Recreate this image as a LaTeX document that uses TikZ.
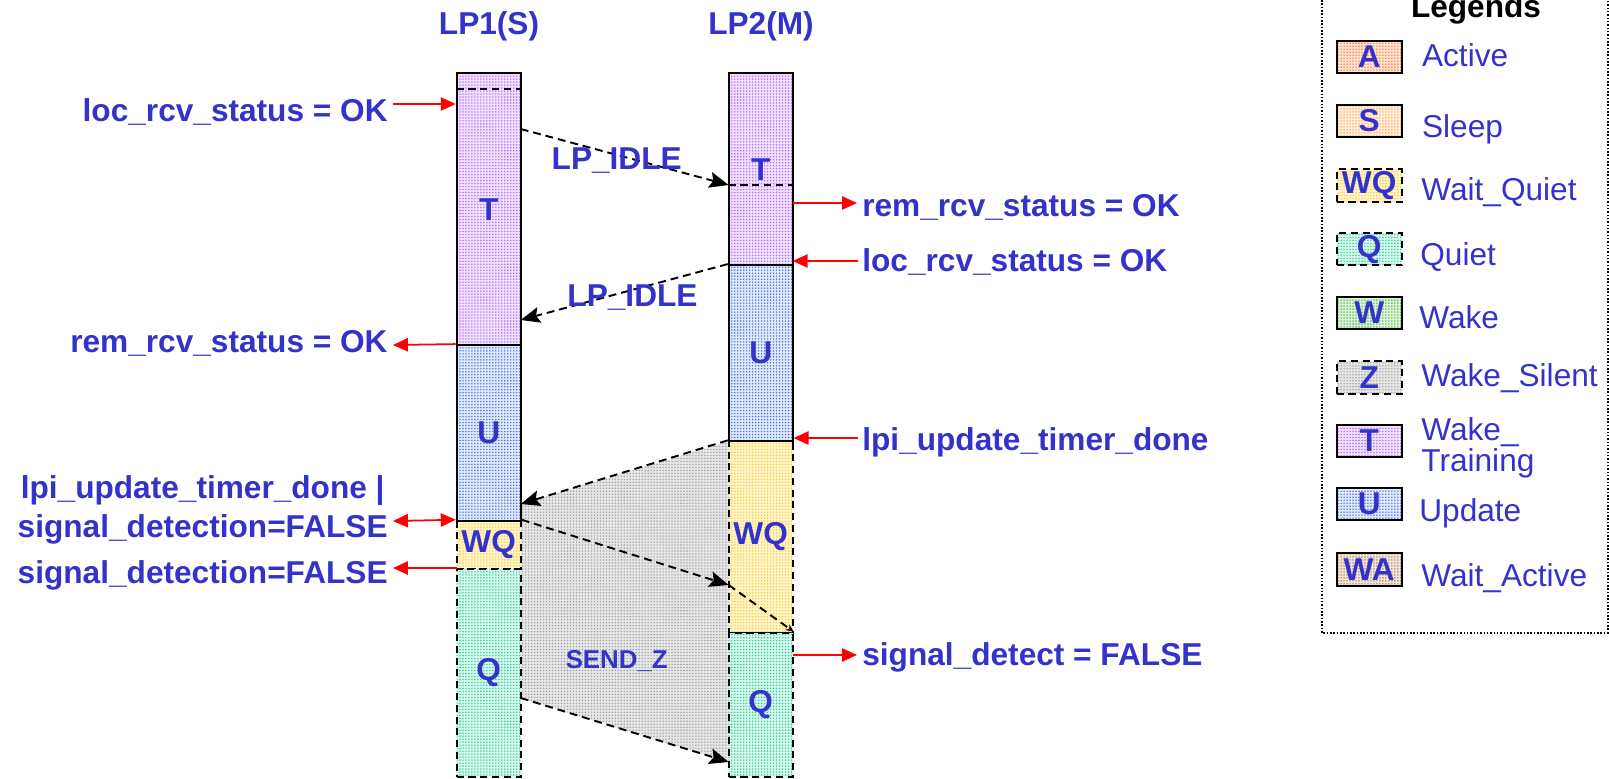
\documentclass[tikz,border=0pt]{standalone}
\usepackage{fontspec}
\setmainfont{Liberation Sans}
\usetikzlibrary{arrows.meta,patterns}
% a fine grid of dots for the state fills
\pgfdeclarepatternformonly{finedots}{\pgfqpoint{-0.85pt}{-0.85pt}}{\pgfqpoint{0.85pt}{0.85pt}}{\pgfqpoint{1.7pt}{1.7pt}}{%
  \pgfpathcircle{\pgfqpoint{0pt}{0pt}}{0.45pt}\pgfusepath{fill}}
\definecolor{txtblue}{HTML}{3333CC}
\definecolor{tBg}{HTML}{F0E0FF}\definecolor{tDot}{HTML}{B068F0}
\definecolor{uBg}{HTML}{E0E8FC}\definecolor{uDot}{HTML}{3F6FDC}
\definecolor{wqBg}{HTML}{FFF4CC}\definecolor{wqDot}{HTML}{FFCC33}
\definecolor{qBg}{HTML}{D4F8EC}\definecolor{qDot}{HTML}{30C898}
\definecolor{zBg}{HTML}{E6E6E6}\definecolor{zDot}{HTML}{A0A0A0}
\definecolor{aBg}{HTML}{FFE4D4}\definecolor{aDot}{HTML}{FF7030}
\definecolor{sBg}{HTML}{FFEEDC}\definecolor{sDot}{HTML}{FFA448}
\definecolor{wBg}{HTML}{DDF4D8}\definecolor{wDot}{HTML}{38B038}
\definecolor{waBg}{HTML}{F0E6DC}\definecolor{waDot}{HTML}{A87848}
\begin{document}
\begin{tikzpicture}[x=0.02cm,y=-0.02cm,
  lbl/.style={font=\bfseries\fontsize{18}{21}\selectfont, text=txtblue, inner sep=0pt},
  leg/.style={font=\fontsize{18}{21}\selectfont, text=txtblue, inner sep=0pt, anchor=base west},
  dotfill/.style 2 args={preaction={fill=#1}, pattern=finedots, pattern color=#2},
  seg/.style 2 args={draw=black, line width=1.1pt, inner sep=0pt, minimum width=64*0.02cm,
    dotfill={#1}{#2}, font=\bfseries\fontsize{18}{21}\selectfont, text=txtblue},
  brk/.style={dash pattern=on 4pt off 2.7pt},
  stA/.style={seg={aBg}{aDot}},
  stS/.style={seg={sBg}{sDot}},
  stWQ/.style={seg={wqBg}{wqDot}, brk},
  stQ/.style={seg={qBg}{qDot}, brk},
  stW/.style={seg={wBg}{wDot}},
  stZ/.style={seg={zBg}{zDot}, brk},
  stT/.style={seg={tBg}{tDot}},
  stU/.style={seg={uBg}{uDot}},
  stWA/.style={seg={waBg}{waDot}},
  lgbox/.style={minimum width=65*0.02cm, minimum height=32.5*0.02cm},
  msg/.style={line width=1.1pt, dash pattern=on 4.5pt off 2.8pt,
    -{Stealth[length=11pt,width=9pt,inset=2pt]}},
  sig/.style={red, line width=1pt, -{Triangle[length=8.5pt,width=7.5pt]}},
  sigboth/.style={red, line width=1pt, {Triangle[length=8.5pt,width=7.5pt]}-{Triangle[length=8.5pt,width=7.5pt]}}
]
\useasboundingbox (0,0) rectangle (1609,778);
\clip (0,0) rectangle (1609,778);

% Wake_Silent exchange between the two lanes
\path[dotfill={zBg}{zDot}] (728.7,441.3) -- (520.7,504) -- (520.7,698) -- (728.7,762) -- cycle;

% lane LP1: dashed states first, solid states on top
\node[stWQ, minimum height=48.6*0.02cm] (WQ1) at (488.7,545) {WQ};
\node[stQ, minimum height=207.4*0.02cm] (Q1) at (488.7,673) {Q};
\node[stT, minimum height=271.7*0.02cm] (T1) at (488.7,209.2) {T};
\node[stU, minimum height=175.7*0.02cm] (U1) at (488.7,432.9) {U};
% lane LP2
\node[stWQ, minimum height=191.4*0.02cm] (WQ2) at (760.7,537) {WQ};
\node[stQ, minimum height=144*0.02cm] (Q2) at (760.7,704.7) {Q};
\node[stT, minimum height=191.7*0.02cm] (T2) at (760.7,169.2) {T};
\node[stU, minimum height=176.3*0.02cm] (U2) at (760.7,353.2) {U};

% marks inside the training states
\draw[line width=1.1pt, brk] (456.7,89.3) -- (520.7,89.3);
\draw[line width=1.1pt, brk] (728.7,185) -- (792.7,185);

% lane headers
\node[lbl, anchor=base] (h1) at (489,34.3) {LP1(S)};
\node[lbl, anchor=base] (h2) at (761,34.3) {LP2(M)};

% messages between the lanes
\coordinate (m1a) at (520.7,129);
\coordinate (m1b) at (728.7,185);
\coordinate (m2b) at (520.7,320);
\coordinate (m3b) at (520.7,504);
\coordinate (m4b) at (728.7,585);
\coordinate (m6a) at (520.7,698);
\coordinate (m6b) at (728.7,762);
\draw[msg] (m1a) -- (m1b);
\draw[msg] (U2.north west) -- (m2b);
\draw[msg] (WQ2.north west) -- (m3b);
\draw[msg] (WQ1.north east) -- (m4b);
\draw[msg, -{Stealth[length=4.5pt,width=4pt]}] (m4b) -- (Q2.north east);
\draw[msg] (m6a) -- (m6b);

\node[lbl, anchor=base] (idle1) at (616.7,169.3) {LP\_IDLE};
\node[lbl, anchor=base] (idle2) at (632.5,306) {LP\_IDLE};
\node[lbl, font=\bfseries\fontsize{14.7}{17}\selectfont, anchor=base] (sendz) at (616.7,668.3) {SEND\_Z};

% conditions on the LP1 side
\node[lbl, anchor=base east] (ll1) at (388,121.5) {loc\_rcv\_status = OK};
\node[lbl, anchor=base east] (ll2) at (388,352) {rem\_rcv\_status = OK};
\node[lbl, anchor=north east, align=center, font=\bfseries\fontsize{18}{22.1}\selectfont] (ll3) at (388,475) {lpi\_update\_timer\_done |\\signal\_detection=FALSE};
\node[lbl, anchor=base east] (ll4) at (388,583) {signal\_detection=FALSE};
\coordinate (c1) at (393,104);
\coordinate (c2) at (393,345);
\coordinate (c3) at (393,521);
\coordinate (c4a) at (456.7,568);
\coordinate (c4b) at (393,568);
\draw[sig] (c1) -- (T1.west |- c1);
\draw[sig] (U1.north west) -- (c2);
\draw[sigboth] (c3) -- (WQ1.north west);
\draw[sig] (c4a) -- (c4b);

% conditions on the LP2 side
\node[lbl, anchor=base west] (rl1) at (862,216.7) {rem\_rcv\_status = OK};
\node[lbl, anchor=base west] (rl2) at (862,271.7) {loc\_rcv\_status = OK};
\node[lbl, anchor=base west] (rl3) at (862,450) {lpi\_update\_timer\_done};
\node[lbl, anchor=base west] (rl4) at (862,665) {signal\_detect = FALSE};
\coordinate (d1a) at (792.7,203);
\coordinate (d1b) at (857,203);
\coordinate (d2a) at (858,261);
\coordinate (d2b) at (792.7,261);
\coordinate (d3a) at (858,438);
\coordinate (d4a) at (792.7,655);
\coordinate (d4b) at (857,655);
\draw[sig] (d1a) -- (d1b);
\draw[sig] (d2a) -- (d2b);
\draw[sig] (d3a) -- (U2.east |- d3a);
\draw[sig] (d4a) -- (d4b);

% legend
\draw[densely dotted, line width=0.9pt] (1321.7,-20) rectangle (1607.7,632.7);
\node[font=\bfseries\fontsize{18}{21}\selectfont, inner sep=0pt, anchor=base] (legt) at (1476,17) {Legends};
\node[stA, lgbox] (kA) at (1369.2,57) {A};
\node[stS, lgbox] (kS) at (1369.2,121) {S};
\node[stWQ, lgbox] (kWQ) at (1369.2,185.5) {WQ};
\node[stQ, lgbox] (kQ) at (1369.2,249.2) {Q};
\node[stW, lgbox] (kW) at (1369.2,313) {W};
\node[stZ, lgbox] (kZ) at (1369.2,377.5) {Z};
\node[stT, lgbox] (kT) at (1369.2,441) {T};
\node[stU, lgbox] (kU) at (1369.2,504.2) {U};
\node[stWA, lgbox] (kWA) at (1369.2,569.5) {WA};
\node[leg] (nA) at (1421.7,66.7) {Active};
\node[leg] (nS) at (1421.7,137) {Sleep};
\node[leg] (nWQ) at (1421,200) {Wait\_Quiet};
\node[leg] (nQ) at (1420,265) {Quiet};
\node[leg] (nW) at (1419,328) {Wake};
\node[leg] (nZ) at (1421,386.7) {Wake\_Silent};
\node[leg, anchor=north west, align=left, font=\fontsize{18}{15.9}\selectfont] (nT) at (1421,417) {Wake\_\\Training};
\node[leg] (nU) at (1419,521.7) {Update};
\node[leg] (nWA) at (1421,586.7) {Wait\_Active};
\end{tikzpicture}
\end{document}
